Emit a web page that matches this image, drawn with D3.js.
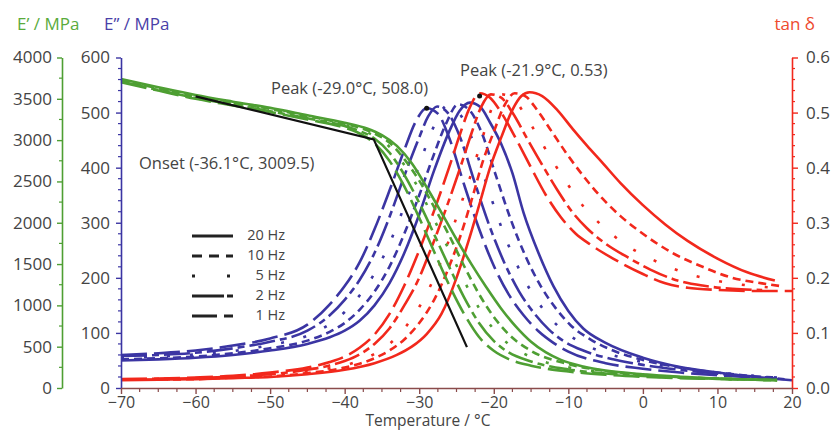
<!DOCTYPE html>
<html><head><meta charset="utf-8">
<script src="https://cdn.jsdelivr.net/npm/d3@7"></script>
<style>
body{margin:0;background:#fff;}
text{font-family:"Open Sans",sans-serif;}
</style></head>
<body>
<svg id="c" width="835" height="430"></svg>
<script>
// ---------------- data ----------------
const frequencies = ["20 Hz","10 Hz","5 Hz","2 Hz","1 Hz"];
const xTicks = [-70,-60,-50,-40,-30,-20,-10,0,10,20];
const eStorageTicks = [0,500,1000,1500,2000,2500,3000,3500,4000];
const eLossTicks = [0,100,200,300,400,500,600];
const tanTicks = [0,0.1,0.2,0.3,0.4,0.5,0.6];

// E' (MPa) : [temperature °C, value]
const storage20 = [[-70,3740],[-65,3640],[-60,3545],[-55,3465],[-50,3390],[-45,3300],[-40,3210],[-37,3140],[-35,3060],[-33,2930],[-31,2720],[-29,2430],[-27,2120],[-25,1800],[-23,1500],[-21,1220],[-19,960],[-17,740],[-15,560],[-13,430],[-11,340],[-8,260],[-5,210],[0,165],[5,135],[10,115],[15,100],[18,95]];
const storage10 = [[-70,3730],[-60,3530],[-50,3378],[-45,3290],[-40,3198],[-38,3150],[-36,3080],[-34,2970],[-32,2770],[-30,2510],[-28,2190],[-26,1850],[-24,1480],[-22,1140],[-20,860],[-18,650],[-15,450],[-10,290],[-5,205],[0,160],[5,132],[10,114],[15,100],[18,95]];
const storage5 = [[-70,3720],[-60,3520],[-50,3365],[-45,3280],[-40,3185],[-38,3130],[-36,3050],[-34,2920],[-32,2700],[-30,2400],[-28,2040],[-26,1670],[-24,1300],[-22,970],[-20,710],[-18,530],[-15,375],[-10,250],[-5,190],[0,152],[5,128],[10,112],[15,100],[18,95]];
const storage2 = [[-70,3710],[-60,3510],[-50,3350],[-45,3265],[-40,3170],[-38,3110],[-36,3020],[-34,2850],[-32,2580],[-30,2240],[-28,1860],[-26,1470],[-24,1100],[-22,790],[-20,570],[-18,430],[-15,320],[-10,225],[-5,175],[0,145],[5,125],[10,112],[15,100],[18,95]];
const storage1 = [[-70,3700],[-65,3600],[-60,3500],[-55,3420],[-50,3340],[-45,3250],[-40,3150],[-38,3080],[-36,2960],[-34,2750],[-32,2440],[-30,2060],[-28,1650],[-26,1250],[-24,900],[-22,620],[-20,450],[-18,350],[-15,270],[-10,200],[-5,160],[0,135],[5,120],[10,110],[15,100],[18,95]];

// E'' (MPa)
const loss20 = [[-70,50],[-65,52],[-60,55],[-55,60],[-50,68],[-45,80],[-42,92],[-40,104],[-38,122],[-36,150],[-34,190],[-32,245],[-30,315],[-28,395],[-26,465],[-24.6,503],[-23.2,518],[-21.8,510],[-20.5,482],[-19,443],[-17.5,390],[-16,318],[-14,245],[-12,185],[-10,140],[-8,108],[-5,82],[0,55],[5,38],[10,28],[15,20],[20,14]];
const loss10 = [[-70,52],[-65,54],[-60,57],[-55,63],[-50,72],[-45,86],[-42,102],[-40,118],[-38,142],[-36,175],[-34,220],[-32,280],[-30,350],[-28,425],[-26.4,480],[-24.8,515],[-23.3,505],[-21.7,466],[-19.7,385],[-17.7,305],[-15.7,238],[-13.7,185],[-11.7,145],[-9.7,114],[-7,88],[-4,68],[0,51],[5,37],[10,28],[15,21],[19,16]];
const loss5 = [[-70,55],[-65,57],[-60,61],[-55,67],[-50,78],[-45,95],[-42,116],[-40,138],[-38,168],[-36,208],[-34,262],[-32,330],[-30,405],[-28.2,470],[-26.2,513],[-24.8,502],[-23.2,462],[-21.2,380],[-19.2,300],[-17.2,233],[-15.2,180],[-13.2,140],[-11.2,110],[-9,88],[-6,68],[-3,56],[0,47],[5,36],[10,28],[15,22],[18,19]];
const loss2 = [[-70,58],[-65,60],[-60,64],[-55,72],[-50,84],[-45,104],[-42,132],[-40,160],[-38,196],[-36,245],[-34,310],[-32,385],[-30,455],[-28.8,493],[-27.6,511],[-26.2,500],[-24.6,458],[-22.6,375],[-20.6,295],[-18.6,228],[-16.6,175],[-14.6,136],[-12.6,106],[-10.6,85],[-8,68],[-4,52],[0,42],[5,33],[10,26],[15,21],[18,19]];
const loss1 = [[-70,60],[-65,63],[-60,68],[-55,77],[-50,90],[-45,115],[-42,152],[-40,185],[-38,228],[-36,288],[-34,358],[-32,432],[-30.5,483],[-29,508],[-27.5,498],[-26,455],[-24,370],[-22,290],[-20,222],[-18,170],[-16,132],[-14,103],[-12,82],[-10,66],[-5,45],[0,35],[5,28],[10,23],[15,19],[18,17]];

// tan delta
const tan20 = [[-70,0.014],[-65,0.015],[-60,0.016],[-55,0.018],[-50,0.02],[-45,0.025],[-40,0.033],[-36,0.045],[-33,0.06],[-31,0.075],[-29,0.098],[-27,0.135],[-25,0.2],[-23.5,0.262],[-22,0.33],[-20.5,0.4],[-19,0.455],[-17.5,0.505],[-16.3,0.53],[-15.2,0.537],[-13.5,0.53],[-11.5,0.505],[-9.4,0.47],[-7.5,0.44],[-5.5,0.41],[-3,0.372],[0,0.332],[3,0.297],[6,0.267],[10,0.235],[14,0.21],[17.7,0.195]];
const tan10 = [[-70,0.015],[-60,0.016],[-55,0.019],[-50,0.021],[-45,0.027],[-40,0.037],[-38,0.044],[-36,0.054],[-34,0.068],[-32,0.088],[-30,0.118],[-28,0.16],[-26,0.22],[-24.5,0.275],[-23,0.34],[-21.5,0.41],[-20,0.465],[-18.5,0.515],[-17.2,0.535],[-15.8,0.53],[-14.2,0.505],[-12.2,0.465],[-10.2,0.425],[-8,0.385],[-5.5,0.345],[-3,0.312],[0,0.28],[4,0.245],[8,0.22],[12,0.2],[16,0.19],[18.5,0.185]];
const tan5 = [[-70,0.015],[-60,0.017],[-55,0.02],[-50,0.023],[-45,0.03],[-42,0.036],[-40,0.041],[-38,0.05],[-36,0.062],[-34,0.08],[-32,0.108],[-30,0.147],[-28,0.2],[-26.5,0.25],[-25,0.31],[-23,0.39],[-21.5,0.455],[-20.2,0.51],[-18.9,0.533],[-17.5,0.527],[-16,0.5],[-14,0.455],[-12,0.41],[-10,0.368],[-8,0.33],[-5.5,0.295],[-2.5,0.262],[1,0.235],[5,0.212],[9,0.197],[13,0.188],[17.5,0.182]];
const tan2 = [[-70,0.016],[-60,0.018],[-55,0.021],[-50,0.025],[-45,0.033],[-42,0.041],[-40,0.049],[-38,0.061],[-36,0.08],[-34,0.108],[-32,0.15],[-30,0.2],[-28.5,0.25],[-26.5,0.322],[-24.5,0.4],[-23,0.462],[-21.7,0.51],[-20.4,0.533],[-19,0.527],[-17.5,0.5],[-15.5,0.452],[-13.5,0.405],[-11.5,0.36],[-9.5,0.32],[-7.5,0.29],[-5,0.262],[-2,0.237],[1,0.215],[4,0.198],[8,0.186],[12,0.18],[16,0.178]];
const tan1 = [[-70,0.016],[-65,0.017],[-60,0.019],[-55,0.022],[-50,0.028],[-45,0.037],[-42,0.047],[-40,0.057],[-38,0.073],[-36,0.097],[-34,0.134],[-32,0.186],[-30,0.25],[-28,0.322],[-26,0.4],[-24.5,0.462],[-23.2,0.51],[-21.9,0.535],[-20.5,0.527],[-19,0.5],[-17,0.452],[-15,0.4],[-13,0.35],[-11,0.31],[-9,0.28],[-7,0.26],[-4,0.235],[0,0.207],[3,0.19],[6,0.182],[10,0.178],[15,0.176],[20,0.176]];

// onset tangents on E' and peak annotations
const onsetLine = [[-60,3530],[-36.1,3009.5],[-23.6,495]];
const onsetLabel = "Onset (-36.1°C, 3009.5)";
const lossPeak = [-29.0, 508.0];
const lossPeakLabel = "Peak (-29.0°C, 508.0)";
const tanPeak = [-21.9, 0.53];
const tanPeakLabel = "Peak (-21.9°C, 0.53)";

// ---------------- drawing ----------------
const svg = d3.select("#c");
const GREEN="#4e9f33", BLUE="#3b35a3", RED="#f2281c", GRAY="#444";
const x = d3.scaleLinear([-70,20],[121,792]);
const yS = d3.scaleLinear([0,4000],[388,57.5]);
const yL = d3.scaleLinear([0,600],[388,57.5]);
const yT = d3.scaleLinear([0,0.6],[388,57.5]);

const dashes = {"20 Hz":null,"10 Hz":"8,5","5 Hz":"3,20","2 Hz":"26,5,7,5","1 Hz":"26,7"};
const legendDashes = {"20 Hz":null,"10 Hz":"10,7","5 Hz":"3,32","2 Hz":"32,3,7,3","1 Hz":"25,7"};

function drawFamily(sets, yScale, color){
  const line = d3.line().x(d=>x(d[0])).y(d=>yScale(d[1])).curve(d3.curveMonotoneX);
  sets.forEach(([f,data])=>{
    svg.append("path").attr("d",line(data)).attr("fill","none")
      .attr("stroke",color).attr("stroke-width",2.6)
      .attr("stroke-dasharray",dashes[f]);
  });
}
drawFamily([["1 Hz",loss1],["2 Hz",loss2],["5 Hz",loss5],["10 Hz",loss10],["20 Hz",loss20]], yL, BLUE);
drawFamily([["1 Hz",tan1],["2 Hz",tan2],["5 Hz",tan5],["10 Hz",tan10],["20 Hz",tan20]], yT, RED);
drawFamily([["1 Hz",storage1],["2 Hz",storage2],["5 Hz",storage5],["10 Hz",storage10],["20 Hz",storage20]], yS, GREEN);

svg.append("path").attr("d", d3.line().x(d=>x(d[0])).y(d=>yS(d[1]))(onsetLine))
  .attr("fill","none").attr("stroke","#111").attr("stroke-width",2.2);

// peak markers
svg.append("circle").attr("cx",x(lossPeak[0])).attr("cy",yL(lossPeak[1])).attr("r",2.5).attr("fill","#111");
svg.append("circle").attr("cx",x(tanPeak[0])).attr("cy",yT(tanPeak[1])).attr("r",2.5).attr("fill","#111");

// annotations
const ann = (t,xx,yy)=>svg.append("text").text(t).attr("x",xx).attr("y",yy)
  .attr("font-size",16.5).attr("fill",GRAY).attr("dominant-baseline","middle");
ann(onsetLabel,139,165);
ann(lossPeakLabel,271,90);
ann(tanPeakLabel,460,72);

// axes
function styleAxis(g,color,fs){
  g.select(".domain").attr("stroke",color).attr("stroke-width",1.6);
  g.selectAll(".tick line").attr("stroke",color).attr("stroke-width",1.4);
  g.selectAll(".tick text").attr("fill",GRAY).attr("font-size",fs||17).attr("font-family","'Open Sans',sans-serif");
}
function minor(g, scale, values, orient, size, color){
  values.forEach(v=>{
    const p = scale(v);
    let l;
    if(orient==="left") l = g.append("line").attr("x1",0).attr("x2",-size).attr("y1",p).attr("y2",p);
    else if(orient==="right") l = g.append("line").attr("x1",0).attr("x2",size).attr("y1",p).attr("y2",p);
    else l = g.append("line").attr("y1",0).attr("y2",size).attr("x1",p).attr("x2",p);
    l.attr("stroke",color).attr("stroke-width",1.2);
  });
}
const gS = svg.append("g").attr("transform","translate(62,0)")
  .call(d3.axisLeft(yS).tickValues(eStorageTicks).tickSize(5).tickPadding(5).tickSizeOuter(0).tickFormat(d3.format("d")));
styleAxis(gS,GREEN);
minor(gS,yS,d3.range(250,4000,500),"left",3,GREEN);

const gL = svg.append("g").attr("transform","translate(121,0)")
  .call(d3.axisLeft(yL).tickValues(eLossTicks).tickSize(5).tickPadding(6).tickSizeOuter(0).tickFormat(d3.format("d")));
styleAxis(gL,BLUE);
minor(gL,yL,d3.range(0,600,20).filter(v=>v%100!==0),"left",3,BLUE);

const gT = svg.append("g").attr("transform","translate(792,0)")
  .call(d3.axisRight(yT).tickValues(tanTicks).tickSize(6).tickPadding(8).tickSizeOuter(0).tickFormat(d3.format(".1f")));
styleAxis(gT,RED);
minor(gT,yT,d3.range(0,0.6,0.02).filter((v,i)=>i%5!==0),"right",3,RED);

const gX = svg.append("g").attr("transform","translate(0,388)")
  .call(d3.axisBottom(x).tickValues(xTicks).tickSize(6).tickPadding(3).tickSizeOuter(0).tickFormat(d3.format("d")));
styleAxis(gX,"#8a4b4b",16);
minor(gX,x,d3.range(-67.5,20,2.5).filter(v=>v%10!==0),"bottom",4,"#8a4b4b");

// axis titles
svg.append("text").text("E’ / MPa").attr("x",17).attr("y",25).attr("font-size",17).attr("fill","#5aab3c").attr("dominant-baseline","middle");
svg.append("text").text("E” / MPa").attr("x",104).attr("y",25).attr("font-size",17).attr("fill","#4a3fa8").attr("dominant-baseline","middle");
svg.append("text").text("tan δ").attr("x",815).attr("y",25).attr("font-size",17).attr("fill","#ee4a2e").attr("text-anchor","end").attr("dominant-baseline","middle");
svg.append("text").text("Temperature / °C").attr("x",428).attr("y",421.5).attr("font-size",15.5).attr("fill",GRAY).attr("text-anchor","middle").attr("dominant-baseline","middle");

// legend
const legendY = [236,256,276,296,316];
frequencies.forEach((f,i)=>{
  svg.append("line").attr("x1",192).attr("x2",233).attr("y1",legendY[i]).attr("y2",legendY[i])
    .attr("stroke","#222").attr("stroke-width",3).attr("stroke-dasharray",legendDashes[f]);
  svg.append("text").text(f).attr("x",285).attr("y",legendY[i]).attr("font-size",14.5)
    .attr("fill",GRAY).attr("text-anchor","end").attr("dominant-baseline","middle");
});
</script>
</body></html>
